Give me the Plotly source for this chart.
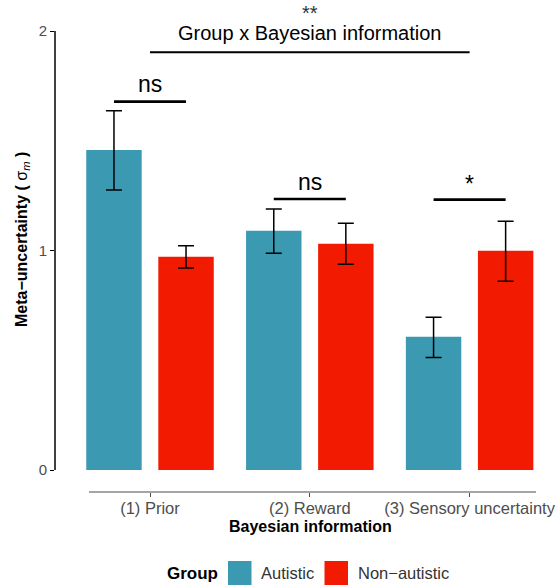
import plotly.graph_objects as go

# ---- data ----
categories = ["(1) Prior", "(2) Reward", "(3) Sensory uncertainty"]
groups = ["Autistic", "Non\u2212autistic"]
autistic = [1.458, 1.090, 0.607]
autistic_hi = [1.637, 1.189, 0.696]
autistic_lo = [1.276, 0.987, 0.513]
nonaut = [0.972, 1.031, 0.999]
nonaut_hi = [1.022, 1.124, 1.133]
nonaut_lo = [0.920, 0.937, 0.860]
pair_labels = ["ns", "ns", "*"]
interaction_label = "Group x Bayesian information"
interaction_sig = "**"
yticks = [0, 1, 2]

TEAL = "#3B9AB2"
RED = "#F21A00"
FONT = "Liberation Sans, Arial, sans-serif"
GREY = "#4D4D4D"

W, H = 560, 585
L, R, T, B = 55, 15, 5, 93
PX0, PXU = 150.0, 159.8      # pixel of x=0, pixels per unit
PY0, PYU = 470.0, 219.5      # pixel of y=0, pixels per unit

def dx(px):
    return (px - PX0) / PXU

def dy(py):
    return (PY0 - py) / PYU

def paper_x(px):
    return (px - L) / (W - L - R)

def paper_y(py):
    return (H - B - py) / (H - T - B)

xs = list(range(len(categories)))

fig = go.Figure()
for name, vals, hi, lo, col in [
    (groups[0], autistic, autistic_hi, autistic_lo, TEAL),
    (groups[1], nonaut, nonaut_hi, nonaut_lo, RED),
]:
    fig.add_trace(go.Bar(
        x=xs, y=vals, name=name,
        marker=dict(color=col, line=dict(width=0)),
        error_y=dict(type="data", symmetric=False,
                     array=[h - v for h, v in zip(hi, vals)],
                     arrayminus=[v - l for v, l in zip(vals, lo)],
                     color="black", thickness=1.5, width=8),
        showlegend=False,
    ))

shapes = []
annotations = []

# y axis line (0..2)
shapes.append(dict(type="line", xref="paper", yref="y", x0=0, x1=0, y0=0, y1=2,
                   line=dict(color="black", width=1.5)))
# x axis line
shapes.append(dict(type="line", xref="x", yref="paper", x0=dx(89), x1=dx(536), y0=0, y1=0,
                   line=dict(color=GREY, width=1.2)))

off = 0.2255
# pairwise significance
pair_y = [dy(101.7), dy(199.0), dy(199.7)]
text_y = [dy(84), dy(181.7), dy(184)]
for i, (lab, ly, ty) in enumerate(zip(pair_labels, pair_y, text_y)):
    shapes.append(dict(type="line", xref="x", yref="y", x0=i - off, x1=i + off, y0=ly, y1=ly,
                       line=dict(color="black", width=2.7)))
    annotations.append(dict(x=i, y=ty, xref="x", yref="y", text=lab, showarrow=False,
                            font=dict(family=FONT, size=23, color="black"),
                            xanchor="center", yanchor="middle"))

# interaction
shapes.append(dict(type="line", xref="x", yref="y", x0=0, x1=2, y0=dy(52.3), y1=dy(52.3),
                   line=dict(color="black", width=2)))
annotations.append(dict(x=1, y=dy(33), xref="x", yref="y", text=interaction_label,
                        showarrow=False, font=dict(family=FONT, size=20, color="black"),
                        xanchor="center", yanchor="middle"))
annotations.append(dict(x=1, y=dy(13), xref="x", yref="y", text=interaction_sig,
                        showarrow=False, font=dict(family=FONT, size=20, color="#333333"),
                        xanchor="center", yanchor="middle"))

# axis titles
annotations.append(dict(x=paper_x(310), y=paper_y(526), xref="paper", yref="paper",
                        text="<b>Bayesian information</b>", showarrow=False,
                        font=dict(family=FONT, size=16, color="black"),
                        xanchor="center", yanchor="middle"))
annotations.append(dict(x=paper_x(22), y=paper_y(240), xref="paper", yref="paper",
                        text="<b>Meta\u2212uncertainty ( </b>\u03c3<sub><i>m</i></sub><b> )</b>",
                        showarrow=False, textangle=-90,
                        font=dict(family=FONT, size=16, color="black"),
                        xanchor="center", yanchor="middle"))

# legend (manual)
annotations.append(dict(x=paper_x(220), y=paper_y(573), xref="paper", yref="paper",
                        text="<b>Group</b>", showarrow=False,
                        font=dict(family=FONT, size=17, color="black"),
                        xanchor="right", yanchor="middle"))
for (x0, x1, col, tx, lab) in [(228, 251.5, TEAL, 259, groups[0]),
                               (324.5, 348, RED, 356, groups[1])]:
    shapes.append(dict(type="rect", xref="paper", yref="paper",
                       x0=paper_x(x0), x1=paper_x(x1), y0=paper_y(561), y1=paper_y(586),
                       fillcolor=col, line=dict(width=0)))
    annotations.append(dict(x=paper_x(tx), y=paper_y(573), xref="paper", yref="paper",
                            text=lab, showarrow=False,
                            font=dict(family=FONT, size=16.5, color="#333333"),
                            xanchor="left", yanchor="middle"))

fig.update_layout(
    width=W, height=H,
    margin=dict(l=L, r=R, t=T, b=B, pad=0),
    paper_bgcolor="white", plot_bgcolor="white",
    barmode="group", bargap=0.098, bargroupgap=0.231,
    font=dict(family=FONT),
    xaxis=dict(range=[dx(L), dx(W - R)], tickvals=xs, ticktext=categories,
               showgrid=False, zeroline=False, showline=False,
               ticks="outside", ticklen=4, tickcolor=GREY, tickwidth=1.2,
               ticklabelstandoff=-3,
               tickfont=dict(family=FONT, size=16.5, color=GREY)),
    yaxis=dict(range=[dy(H - B), dy(T)], tickvals=yticks,
               showgrid=False, zeroline=False, showline=False,
               ticks="outside", ticklen=4, tickcolor="black", tickwidth=1.2,
               tickfont=dict(family=FONT, size=15, color=GREY)),
    shapes=shapes, annotations=annotations,
)

fig.write_html("out.html", config={"displayModeBar": False},
               post_script="document.body.style.margin='0';document.body.style.overflow='hidden';")
